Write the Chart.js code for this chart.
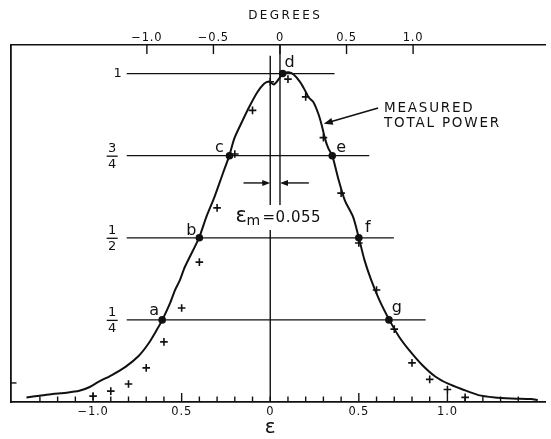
<!DOCTYPE html>
<html>
<head>
<meta charset="utf-8">
<script src="https://cdn.jsdelivr.net/npm/chart.js@4/dist/chart.umd.min.js"></script>
<style>
  html, body { margin: 0; padding: 0; background: #fff; }
  canvas { display: block; }
</style>
</head>
<body>
<canvas id="beam" width="551" height="439" style="width:551px;height:439px"></canvas>
<script>
// ---- data ----------------------------------------------------------
// measured total power vs. normalised offset epsilon
const curveEps = [-1.376, -1.302, -1.229, -1.153, -1.078, -1.022, -0.967, -0.894, -0.817, -0.743,
  -0.687, -0.641, -0.609, -0.566, -0.538, -0.510, -0.482, -0.402, -0.361, -0.315,
  -0.268, -0.231, -0.203, -0.156, -0.119, -0.073, -0.035, -0.007, 0.021, 0.049,
  0.070, 0.104, 0.132, 0.169, 0.197, 0.216, 0.244, 0.272, 0.291, 0.309,
  0.328, 0.350, 0.384, 0.421, 0.468, 0.500, 0.532, 0.570, 0.616, 0.672,
  0.728, 0.784, 0.859, 0.933, 1.007, 1.082, 1.175, 1.268, 1.361, 1.473, 1.510];
const curvePow = [0.014, 0.019, 0.024, 0.028, 0.034, 0.045, 0.062, 0.082, 0.107, 0.140,
  0.178, 0.219, 0.250, 0.300, 0.340, 0.371, 0.411, 0.500, 0.563, 0.624,
  0.695, 0.750, 0.802, 0.857, 0.898, 0.943, 0.969, 0.976, 0.967, 0.984,
  1.000, 1.004, 0.997, 0.974, 0.948, 0.928, 0.913, 0.877, 0.842, 0.802,
  0.772, 0.750, 0.680, 0.614, 0.563, 0.500, 0.432, 0.371, 0.310, 0.250,
  0.198, 0.158, 0.112, 0.077, 0.055, 0.039, 0.021, 0.014, 0.011, 0.009, 0.006];

// individual samples (+)
const sampleEps = [-1.0, -0.9, -0.8, -0.7, -0.6, -0.5, -0.4, -0.3, -0.2, -0.1, 0.0,
  0.1, 0.2, 0.3, 0.4, 0.5, 0.6, 0.7, 0.8, 0.9, 1.0, 1.1];
const samplePow = [0.018, 0.033, 0.055, 0.104, 0.183, 0.286, 0.426, 0.591, 0.755, 0.888, 0.975,
  0.983, 0.929, 0.805, 0.636, 0.484, 0.341, 0.222, 0.119, 0.069, 0.038, 0.014];

// lettered points on the curve
const pointNames = ['a', 'b', 'c', 'd', 'e', 'f', 'g'];
const pointEps = [-0.61, -0.40, -0.23, 0.07, 0.35, 0.50, 0.67];
const pointPow = [0.25, 0.5, 0.75, 1.0, 0.75, 0.5, 0.25];

// reference power levels
const levelPow = [1, 0.75, 0.5, 0.25];
const levelNum = ['1', '3', '1', '1'];
const levelDen = ['', '4', '2', '4'];
const levelTo = [0.363, 0.559, 0.698, 0.877];

const epsM = 0.055;

// axis ticks
const epsTickValues = [-1.0, -0.5, 0, 0.5, 1.0];
const epsTickLabels = ['\u22121.0', '0.5', '0', '0.5', '1.0'];
const epsMarks = [-1.3, -1.2, -1.1, -1.0, -0.9, -0.8, -0.7, -0.6, -0.5, -0.4, -0.3, -0.2, -0.1, 0,
  0.1, 0.2, 0.3, 0.4, 0.5, 0.6, 0.7, 0.8, 0.9, 1.0, 1.1, 1.2, 1.3, 1.4];
const degTickValues = [-1.0, -0.5, 0, 0.5, 1.0];
const degTickLabels = ['\u22121.0', '\u22120.5', '0', '0.5', '1.0'];

// ---- layout & style ------------------------------------------------
const FONT = "'DejaVu Sans', 'Liberation Sans', Arial, sans-serif";
const INK = '#111111';
const EPS_MIN = -1.466, EPS_MAX = 1.553;
const POW_MAX = 1.087;
const DEG_MIN = -2.0245, DEG_MAX = 1.994;
const LEVEL_FROM = -0.81;
const ZERO_SPANS = [[1.054, 0.600], [0.524, 0]];
const EPSM_SPAN = [POW_MAX, 0.600];
const DIM_ROW = 0.667;
const labelOffsets = { a: [-8, -5], b: [-8, -3], c: [-10, -4], d: [7, -7], e: [9, -4], f: [9, -6], g: [8, -8] };

const pts = (xs, ys) => xs.map((v, i) => ({ x: v, y: ys[i] }));
const seg = (x0, y0, x1, y1, w) => ({
  data: [{ x: x0, y: y0 }, { x: x1, y: y1 }],
  borderColor: INK, borderWidth: w, pointRadius: 0, tension: 0, fill: false
});

const datasets = [];
levelPow.forEach((p, i) => datasets.push(seg(LEVEL_FROM, p, levelTo[i], p, 1.3)));
ZERO_SPANS.forEach(s => datasets.push(seg(0, s[0], 0, s[1], 1.4)));
datasets.push(seg(epsM, EPSM_SPAN[0], epsM, EPSM_SPAN[1], 1.4));
datasets.push({
  label: 'MEASURED TOTAL POWER',
  data: pts(curveEps, curvePow),
  borderColor: INK, borderWidth: 2, pointRadius: 0, tension: 0.25, fill: false
});
datasets.push({
  label: 'samples',
  data: pts(sampleEps, samplePow),
  showLine: false, pointStyle: 'cross', pointRadius: 3.8,
  borderColor: INK, pointBorderWidth: 1.6
});
const POINT_SET = datasets.length;
datasets.push({
  label: 'points',
  data: pts(pointEps, pointPow),
  showLine: false, pointStyle: 'circle', pointRadius: 3.8,
  backgroundColor: INK, borderColor: INK, pointBorderWidth: 0
});

function arrow(ctx, x0, y0, x1, y1, len, half) {
  const a = Math.atan2(y1 - y0, x1 - x0);
  ctx.beginPath(); ctx.moveTo(x0, y0); ctx.lineTo(x1 - Math.cos(a) * len * 0.6, y1 - Math.sin(a) * len * 0.6); ctx.stroke();
  ctx.beginPath();
  ctx.moveTo(x1, y1);
  ctx.lineTo(x1 - Math.cos(a) * len + Math.sin(a) * half, y1 - Math.sin(a) * len - Math.cos(a) * half);
  ctx.lineTo(x1 - Math.cos(a) * len - Math.sin(a) * half, y1 - Math.sin(a) * len + Math.cos(a) * half);
  ctx.closePath(); ctx.fill();
}

// slight tracking for the axis lettering
const spacing = {
  id: 'spacing',
  beforeDraw(chart) { chart.ctx.letterSpacing = '0.8px'; },
  afterDraw(chart) { chart.ctx.letterSpacing = '0px'; }
};

const annotations = {
  id: 'annotations',
  afterDatasetsDraw(chart) {
    const { ctx, chartArea: area } = chart;
    const { x, y, x2 } = chart.scales;
    ctx.save();
    ctx.strokeStyle = INK; ctx.fillStyle = INK; ctx.lineWidth = 1.4; ctx.lineCap = 'butt';
    const line = (a, b, c, d) => { ctx.beginPath(); ctx.moveTo(a, b); ctx.lineTo(c, d); ctx.stroke(); };

    // inward tick marks
    epsMarks.forEach(v => {
      const px = x.getPixelForValue(v);
      const major = Math.abs(v * 2 - Math.round(v * 2)) < 1e-6 && v !== 0;
      line(px, area.bottom, px, area.bottom - (major ? 9 : 5.5));
    });
    degTickValues.forEach(v => {
      const px = x2.getPixelForValue(v);
      line(px, area.top, px, area.top + 9);
    });
    line(area.left, y.getPixelForValue(0.058), area.left + 6, y.getPixelForValue(0.058));

    // axis titles
    ctx.textAlign = 'center'; ctx.textBaseline = 'middle';
    ctx.font = '12px ' + FONT; ctx.letterSpacing = '2.4px';
    ctx.fillText('DEGREES', x2.getPixelForValue(0.03) + 1.2, 16);
    ctx.font = '20px ' + FONT; ctx.letterSpacing = '0px';
    ctx.fillText('\u03b5', x.getPixelForValue(0), 428);

    // level labels
    ctx.font = '13px ' + FONT;
    levelPow.forEach((p, i) => {
      const py = y.getPixelForValue(p);
      if (!levelDen[i]) {
        ctx.fillText(levelNum[i], x.getPixelForValue(-0.862), py);
      } else {
        const cx = x.getPixelForValue(-0.892);
        ctx.fillText(levelNum[i], cx, py - 7.5);
        ctx.fillText(levelDen[i], cx, py + 9);
        ctx.lineWidth = 1.3;
        line(cx - 5.5, py + 0.5, cx + 5.5, py + 0.5);
      }
    });

    // point letters
    ctx.font = '16px ' + FONT; ctx.textBaseline = 'alphabetic';
    chart.getDatasetMeta(POINT_SET).data.forEach((el, i) => {
      const o = labelOffsets[pointNames[i]];
      ctx.fillText(pointNames[i], el.x + o[0], el.y + o[1]);
    });

    // dimension arrows around epsilon_m
    ctx.lineWidth = 1.4;
    const ay = y.getPixelForValue(DIM_ROW);
    arrow(ctx, x.getPixelForValue(-0.151), ay, x.getPixelForValue(0), ay, 8, 3);
    arrow(ctx, x.getPixelForValue(0.218), ay, x.getPixelForValue(epsM), ay, 8, 3);

    // epsilon_m label
    const bx = x.getPixelForValue(-0.196), by = y.getPixelForValue(0.547);
    ctx.textAlign = 'left';
    ctx.font = '21px ' + FONT;
    ctx.fillText('\u03b5', bx, by);
    ctx.font = '14px ' + FONT;
    ctx.fillText('m', bx + 11, by + 3);
    ctx.font = '15px ' + FONT; ctx.letterSpacing = '0.5px';
    ctx.fillText('=0.055', bx + 27, by);

    // curve caption with leader
    ctx.font = '13.5px ' + FONT; ctx.letterSpacing = '1.8px';
    const tx = x.getPixelForValue(0.642);
    ctx.fillText('MEASURED', tx, y.getPixelForValue(0.884));
    ctx.fillText('TOTAL POWER', tx, y.getPixelForValue(0.836));
    ctx.lineWidth = 1.5;
    arrow(ctx, x.getPixelForValue(0.609), y.getPixelForValue(0.895),
          x.getPixelForValue(0.302), y.getPixelForValue(0.847), 9, 3.5);
    ctx.restore();
  }
};

new Chart(document.getElementById('beam'), {
  type: 'line',
  data: { datasets },
  plugins: [spacing, annotations],
  options: {
    responsive: false,
    animation: false,
    devicePixelRatio: 1,
    layout: { padding: 0 },
    plugins: { legend: { display: false }, tooltip: { enabled: false } },
    scales: {
      x: {
        type: 'linear', position: 'bottom', min: EPS_MIN, max: EPS_MAX,
        afterBuildTicks: s => { s.ticks = epsTickValues.map(v => ({ value: v })); },
        afterFit: s => { s.height = 37; },
        ticks: {
          autoSkip: false, maxRotation: 0, padding: 3.5, color: INK,
          font: { family: FONT, size: 11.5 },
          callback: v => epsTickLabels[epsTickValues.indexOf(v)]
        },
        grid: { display: false, drawTicks: false },
        border: { display: true, color: INK, width: 1.8 }
      },
      x2: {
        type: 'linear', position: 'top', min: DEG_MIN, max: DEG_MAX,
        afterBuildTicks: s => { s.ticks = degTickValues.map(v => ({ value: v })); },
        afterFit: s => { s.height = 45; },
        ticks: {
          autoSkip: false, maxRotation: 0, padding: 0.5, color: INK,
          font: { family: FONT, size: 11.5 },
          callback: v => degTickLabels[degTickValues.indexOf(v)]
        },
        grid: { display: false, drawTicks: false },
        border: { display: true, color: INK, width: 1.6 }
      },
      y: {
        type: 'linear', min: 0, max: POW_MAX,
        afterFit: s => { s.width = 10.5; },
        ticks: { display: false },
        grid: { display: false, drawTicks: false },
        border: { display: true, color: INK, width: 1.8 }
      }
    }
  }
});
</script>
</body>
</html>
